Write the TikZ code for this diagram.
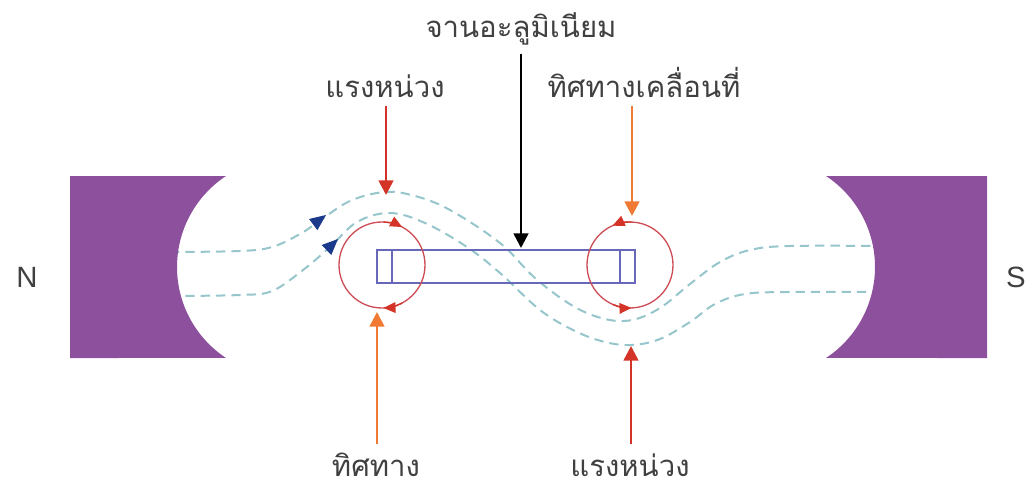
\documentclass[tikz,border=0pt]{standalone}
\usepackage{fontspec}
\newfontfamily\thaifont[Script=Thai]{Loma}
\newfontfamily\polefont{Liberation Sans}
\usetikzlibrary{arrows.meta}

\definecolor{magnetpurple}{RGB}{141,80,156}
\definecolor{fieldteal}{RGB}{150,198,204}
\definecolor{diskblue}{RGB}{104,104,184}
\definecolor{eddyred}{RGB}{206,78,88}
\definecolor{dragred}{RGB}{212,52,40}
\definecolor{motionorange}{RGB}{240,122,52}
\definecolor{tipblue}{RGB}{28,58,140}
\definecolor{labelgray}{RGB}{64,64,64}

\tikzset{
  magnet/.style={fill=magnetpurple},
  fieldline/.style={draw=fieldteal, line width=1.5pt, dash pattern=on 7pt off 4.5pt},
  diskedge/.style={draw=diskblue, line width=1.2pt},
  eddyloop/.style={draw=eddyred, line width=1pt},
  eddytip/.style={draw=dragred, line width=1pt, -{Triangle[width=8pt,length=9pt]}},
  fieldtip/.style={fill=tipblue},
  thailabel/.style={font=\thaifont\fontsize{22}{26}\selectfont, text=labelgray, anchor=base, inner sep=2pt},
  polelabel/.style={font=\polefont\fontsize{22}{26}\selectfont, text=labelgray},
  pointer/.style={line width=2pt, -{Triangle[width=11pt,length=11pt]}},
  dragarrow/.style={pointer, draw=dragred, fill=dragred},
  motionarrow/.style={pointer, draw=motionorange, fill=motionorange},
  diskarrow/.style={pointer, draw=black, fill=black},
}

\begin{document}
\begin{tikzpicture}[x=0.75pt, y=-0.75pt]
\useasboundingbox (0,0) rectangle (1025,489);

% magnetic field lines between the poles
\draw[fieldline] plot[smooth, tension=0.6] coordinates {
  (170,252) (240,251) (272,247) (300,234) (318,222) (350,201) (385,192)
  (415,196) (450,210) (500,243) (535,278) (573,306) (605,319) (632,320)
  (660,308) (690,284) (720,262) (750,250) (790,246) (885,246)};
\draw[fieldline] plot[smooth, tension=0.6] coordinates {
  (170,296) (240,295) (272,291) (303,270) (330,247) (357,222) (390,213)
  (425,223) (467,247) (500,273) (540,310) (575,331) (605,342) (632,345)
  (660,339) (690,322) (715,304) (745,294) (790,292) (885,292)};

% field direction tips
\fill[fieldtip] (326,215) -- (309,219) -- (317.4,230.2) -- cycle;
\fill[fieldtip] (338,239) -- (321.7,245) -- (331.3,255) -- cycle;

% north pole piece with concave face
\fill[magnet] (70,176) -- (226,176)
  arc[start angle=-123.4, end angle=-236.6, radius=109] -- (70,358) -- cycle;
% south pole piece with concave face
\fill[magnet] (987,176) -- (826,176)
  arc[start angle=-56.6, end angle=56.6, radius=109] -- (987,358) -- cycle;

\node[polelabel] (north) at (27,277) {N};
\node[polelabel] (south) at (1016,277) {S};

% aluminium disk seen edge-on
\node[diskedge, minimum width=258*0.75pt, minimum height=33*0.75pt, inner sep=0pt] (disk) at (506,266.5) {};
\draw[diskedge] (392,250) -- (392,283);
\draw[diskedge] (620,250) -- (620,283);

% eddy current loops
\coordinate (leftloop) at (382,265);
\coordinate (rightloop) at (630,265);
\draw[eddyloop] (leftloop) circle[radius=43];
\draw[eddyloop] (rightloop) circle[radius=43];
\draw[eddytip] (leftloop) ++(-88:43) arc[start angle=-88, end angle=-62, radius=43];
\draw[eddytip] (leftloop) ++(62:43) arc[start angle=62, end angle=88, radius=43];
\draw[eddytip] (rightloop) ++(-88:43) arc[start angle=-88, end angle=-114, radius=43];
\draw[eddytip] (rightloop) ++(114:43) arc[start angle=114, end angle=88, radius=43];

% labels
\node[thailabel] (disklabel) at (521,37) {จานอะลูมิเนียม};
\node[thailabel] (dragtop) at (385,97) {แรงหน่วง};
\node[thailabel] (movelabel) at (644,97) {ทิศทางเคลื่อนที่};
\node[thailabel] (dirlabel) at (376,476) {ทิศทาง};
\node[thailabel] (dragbottom) at (630,476) {แรงหน่วง};

% pointer tips
\coordinate (disktip) at (521,248);
\coordinate (dragtoptip) at (386,195);
\coordinate (movetip) at (632,216);
\coordinate (dirtip) at (377,312);
\coordinate (dragbottomtip) at (631,346);

\draw[diskarrow] (disklabel.south -| disktip) ++(0,6) -- (disktip);
\draw[dragarrow] (dragtop.south -| dragtoptip) ++(0,6) -- (dragtoptip);
\draw[motionarrow] (movelabel.south -| movetip) ++(0,6) -- (movetip);
\draw[motionarrow] (dirlabel.north -| dirtip) ++(0,-6) -- (dirtip);
\draw[dragarrow] (dragbottom.north -| dragbottomtip) ++(0,-6) -- (dragbottomtip);
\end{tikzpicture}
\end{document}
